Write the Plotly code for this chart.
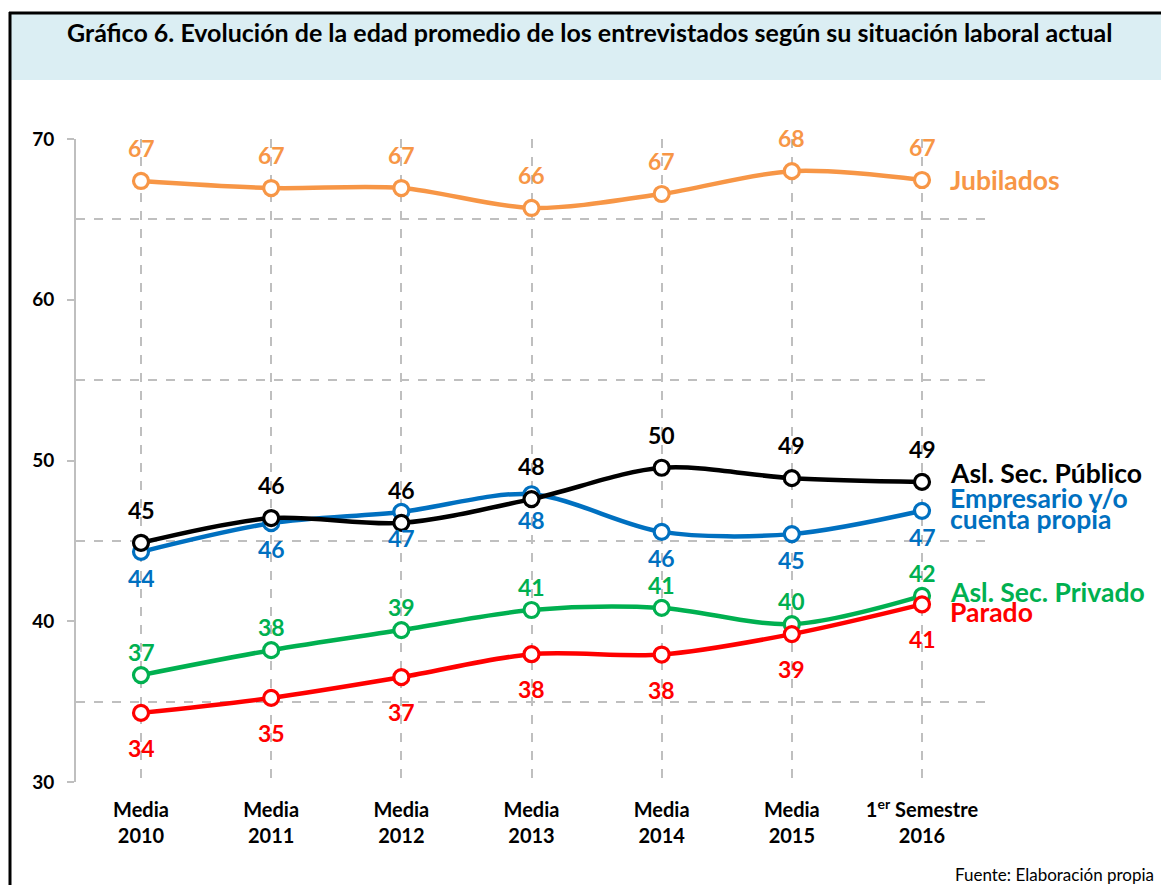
import plotly.graph_objects as go

# ---- data ----
categories = ["Media<br>2010", "Media<br>2011", "Media<br>2012", "Media<br>2013",
              "Media<br>2014", "Media<br>2015", "1<sup>er</sup> Semestre<br>2016"]
jubilados = [67.39, 66.95, 66.95, 65.71, 66.58, 68.0, 67.45]
publico = [44.88, 46.42, 46.12, 47.6, 49.55, 48.9, 48.67]
empresario = [44.32, 46.1, 46.8, 47.9, 45.56, 45.42, 46.87]
privado = [36.65, 38.2, 39.45, 40.7, 40.83, 39.82, 41.58]
parado = [34.3, 35.23, 36.52, 37.95, 37.93, 39.2, 41.05]
y_ticks = [30, 40, 50, 60, 70]

W, H = 1161, 885
L, R, T, B = 76, 176, 139, 103
PW, PH = W - L - R, H - T - B

def px(x):
    return (x - L) / PW

def py(y):
    return 1 - (y - T) / PH

FONT = "Lato"
xs = list(range(len(categories)))

series = [
    ("Jubilados", jubilados, "#F79646", 33),
    ("Empresario y/o cuenta propia", empresario, "#0070C0", -26),
    ("Asl. Sec. Público", publico, "#000000", 33),
    ("Asl. Sec. Privado", privado, "#00B050", 23),
    ("Parado", parado, "#FF0000", -35),
]

fig = go.Figure()
annotations = []
for name, vals, color, shift in series:
    fig.add_trace(go.Scatter(
        x=xs, y=vals, mode="lines+markers", name=name,
        line=dict(color=color, width=4.5, shape="spline", smoothing=0.9),
        marker=dict(size=15, color="white", line=dict(color=color, width=3.2)),
        showlegend=False, hoverinfo="skip",
    ))
    for i, v in enumerate(vals):
        annotations.append(dict(
            x=i, y=v, xref="x", yref="y", text=f"<b>{v:.0f}</b>", showarrow=False,
            yshift=shift, font=dict(family=FONT, size=23, color=color),
        ))

# series names on the right
name_labels = [
    ("<b>Jubilados</b>", 67.45, "#F79646"),
    ("<b>Asl. Sec. Público</b>", 49.2, "#000000"),
    ("<b>Empresario y/o</b>", 47.66, "#0070C0"),
    ("<b>cuenta propia</b>", 46.35, "#0070C0"),
    ("<b>Asl. Sec. Privado</b>", 41.8, "#00B050"),
    ("<b>Parado</b>", 40.57, "#FF0000"),
]
for txt, yv, color in name_labels:
    annotations.append(dict(
        x=6, y=yv, xref="x", yref="y", text=txt, showarrow=False,
        xanchor="left", xshift=26, align="left",
        font=dict(family=FONT, size=26.5, color=color),
    ))

# title and source
annotations.append(dict(
    x=px(590), y=py(32), xref="paper", yref="paper", showarrow=False,
    text="<b>Gráfico 6. Evolución de la edad promedio de los entrevistados según su situación laboral actual</b>",
    font=dict(family=FONT, size=25, color="#000000"), xanchor="center", yanchor="middle",
))
annotations.append(dict(
    x=px(1156), y=py(874), xref="paper", yref="paper", showarrow=False,
    text="Fuente: Elaboración propia",
    font=dict(family=FONT, size=17, color="#000000"), xanchor="right", yanchor="middle",
))

shapes = [
    dict(type="rect", xref="paper", yref="paper", x0=px(9), x1=px(1165), y0=py(13), y1=py(80),
         fillcolor="#DBEEF3", line=dict(width=0), layer="below"),
    dict(type="line", xref="paper", yref="paper", x0=px(9), x1=px(1165), y0=py(13), y1=py(13),
         line=dict(color="black", width=3)),
    dict(type="line", xref="paper", yref="paper", x0=px(10), x1=px(10), y0=py(12), y1=py(890),
         line=dict(color="black", width=3)),
]

fig.update_layout(
    width=W, height=H,
    margin=dict(l=L, r=R, t=T, b=B),
    paper_bgcolor="white", plot_bgcolor="white",
    annotations=annotations, shapes=shapes,
    font=dict(family=FONT, color="#000000"),
    xaxis=dict(
        tickmode="array", tickvals=xs, ticktext=[f"<b>{c}</b>" for c in categories],
        range=[-0.4994, 6.484], showline=False, zeroline=False,
        showgrid=True, gridcolor="#BFBFBF", griddash="dash", gridwidth=1.5,
        tickfont=dict(family=FONT, size=20, color="#000000"), ticks="", ticklabelstandoff=14,
        fixedrange=True,
    ),
    yaxis=dict(
        range=[30, 70], tickmode="array", tickvals=y_ticks,
        ticktext=[f"<b>{t}</b>" for t in y_ticks],
        showgrid=False, zeroline=False,
        showline=True, linecolor="#BFBFBF", linewidth=2,
        ticks="outside", ticklen=7, tickcolor="#BFBFBF", tickwidth=1.5,
        tickfont=dict(family=FONT, size=19, color="#000000"), ticklabelstandoff=9,
        minor=dict(tickmode="array", tickvals=[35, 45, 55, 65], showgrid=True,
                   gridcolor="#BFBFBF", griddash="dash", gridwidth=1.5, ticks=""),
        fixedrange=True,
    ),
)

fig.write_html("out.html", config={"displayModeBar": False},
               post_script="document.body.style.margin='0';document.body.style.overflow='hidden';")
